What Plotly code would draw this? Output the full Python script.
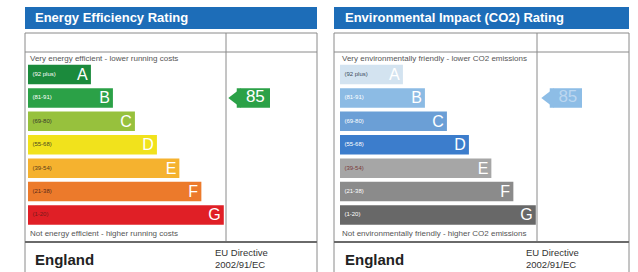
import plotly.graph_objects as go

W, H = 638, 272

# ---------------- data ----------------
bands = ["A", "B", "C", "D", "E", "F", "G"]
band_ranges = ["(92 plus)", "(81-91)", "(69-80)", "(55-68)", "(39-54)", "(21-38)", "(1-20)"]
band_lower = [92, 81, 69, 55, 39, 21, 1]
bar_length = [2.86, 3.86, 4.86, 5.86, 6.88, 7.88, 8.9]   # relative bar lengths (chart units)
ee_colors = ["#1b8a3c", "#2ba147", "#97c13d", "#f1e21c", "#f5b22f", "#ec7a2b", "#e01f26"]
ei_colors = ["#d3e3f0", "#8cbbe4", "#6b9fd6", "#3c7dcc", "#a6a6a6", "#8b8b8b", "#686868"]
ee_range_text_colors = ["#ffffff", "#ffffff", "#3a3a2a", "#4a4a20", "#5a3a1a", "#5a2a1a", "#7a1a1a"]
ei_range_text_colors = ["#3a4a5a", "#ffffff", "#ffffff", "#ffffff", "#7a3a3a", "#ffffff", "#ffffff"]
ee_current = 85
ei_current = 85

titles = ["Energy Efficiency Rating", "Environmental Impact (CO2) Rating"]
top_notes = ["Very energy efficient - lower running costs",
             "Very environmentally friendly - lower CO2 emissions"]
bottom_notes = ["Not energy efficient - higher running costs",
                "Not environmentally friendly - higher CO2 emissions"]
footer_left = "England"
footer_right = "EU Directive<br>2002/91/EC"

FONT = "Liberation Sans, Arial, sans-serif"


def band_of(rating):
    for b, lo in zip(bands, band_lower):
        if rating >= lo:
            return b
    return bands[-1]


def px(x):
    return x / W


def py(y):
    return 1 - y / H


fig = go.Figure()

panels = [
    dict(box=(25, 317), div=226, bar_x0=28, colors=ee_colors, rt_colors=ee_range_text_colors,
         rating=ee_current, arrow_color="#2ba147", arrow_text="#ffffff",
         xa="x", xb="x2", ya="y", tip=1, bar_end=44, title_x=33),
    dict(box=(334, 629), div=537, bar_x0=340, colors=ei_colors, rt_colors=ei_range_text_colors,
         rating=ei_current, arrow_color="#8dbde6", arrow_text="#bcd7f0",
         xa="x3", xb="x4", ya="y2", tip=3, bar_end=45, title_x=343),
]

ROW_TOP, ROW_BOT = 62.8, 226.7
BAR_W = 0.83
tri_rt = 9.75
tri_size = 2 * tri_rt * (3 ** 0.5) / 2

shapes = []
annotations = []
layout_axes = {}

for i, p in enumerate(panels):
    fig.add_trace(go.Bar(
        y=bands, x=bar_length, orientation="h", base=0,
        marker=dict(color=p["colors"], line=dict(width=0)),
        width=BAR_W,
        text=bands, textposition="inside", insidetextanchor="end",
        textangle=0, constraintext="none",
        textfont=dict(family=FONT, size=16, color="#ffffff"),
        xaxis=p["xa"], yaxis=p["ya"], hoverinfo="skip", showlegend=False,
    ))
    fig.add_trace(go.Scatter(
        y=bands, x=[0.2] * len(bands), mode="text", text=band_ranges,
        textposition="middle right",
        textfont=dict(family=FONT, size=6, color=p["rt_colors"]),
        xaxis=p["xa"], yaxis=p["ya"], hoverinfo="skip", showlegend=False,
    ))
    cur_band = band_of(p["rating"])
    centre = p["tip"] + tri_rt
    fig.add_trace(go.Bar(
        y=[cur_band], x=[p["bar_end"] - centre], base=[centre], orientation="h",
        marker=dict(color=p["arrow_color"], line=dict(width=0)), width=BAR_W,
        xaxis=p["xb"], yaxis=p["ya"], hoverinfo="skip", showlegend=False,
    ))
    fig.add_trace(go.Scatter(
        y=[cur_band], x=[centre], mode="markers",
        marker=dict(symbol="triangle-left", size=tri_size, color=p["arrow_color"],
                    line=dict(width=0)),
        xaxis=p["xb"], yaxis=p["ya"], hoverinfo="skip", showlegend=False,
    ))
    fig.add_trace(go.Scatter(
        y=[cur_band], x=[(centre + p["bar_end"]) / 2 + 2], mode="text",
        text=[str(p["rating"])], textposition="middle center",
        textfont=dict(family=FONT, size=17, color=p["arrow_text"]),
        xaxis=p["xb"], yaxis=p["ya"], hoverinfo="skip", showlegend=False,
    ))

    bx0, bx1 = p["box"]
    xa_name = "xaxis" if p["xa"] == "x" else "xaxis" + p["xa"][1:]
    xb_name = "xaxis" + p["xb"][1:]
    ya_name = "yaxis" if p["ya"] == "y" else "yaxis" + p["ya"][1:]
    hidden = dict(showgrid=False, zeroline=False, showticklabels=False, showline=False,
                  ticks="", fixedrange=True)
    layout_axes[xa_name] = dict(domain=[px(p["bar_x0"]), px(p["div"])],
                                range=[0, (p["div"] - p["bar_x0"]) / 22.0],
                                anchor=p["ya"], **hidden)
    layout_axes[xb_name] = dict(domain=[px(p["div"]), px(bx1)],
                                range=[0, bx1 - p["div"]], anchor=p["ya"], **hidden)
    layout_axes[ya_name] = dict(domain=[py(ROW_BOT), py(ROW_TOP)], type="category",
                                categoryorder="array", categoryarray=bands,
                                range=[6.5, -0.5], anchor=p["xa"], **hidden)

    shapes.append(dict(type="rect", xref="paper", yref="paper",
                       x0=px(bx0), x1=px(bx1), y0=py(29), y1=py(7),
                       fillcolor="#1d6db8", line=dict(width=0), layer="below"))
    annotations.append(dict(text="<b>" + titles[i] + "</b>", xref="paper", yref="paper",
                            x=px(p["title_x"]), y=py(18), xanchor="left", yanchor="middle",
                            showarrow=False, font=dict(family=FONT, size=13, color="#ffffff")))
    lc = "#8a8a8a"
    for (x0, y0, x1, y1, w, c) in [
        (bx0, 33, bx1, 33, 1, lc),
        (bx0, 52, bx1, 52, 1, lc),
        (bx0, 33, bx0, 275, 1, lc),
        (bx1, 33, bx1, 275, 1, lc),
        (p["div"], 33, p["div"], 242, 1, lc),
        (bx0, 242, bx1, 242, 2, "#6a6a6a"),
    ]:
        shapes.append(dict(type="line", xref="paper", yref="paper",
                           x0=px(x0), x1=px(x1), y0=py(y0), y1=py(y1),
                           line=dict(color=c, width=w)))
    annotations.append(dict(text=top_notes[i], xref="paper", yref="paper",
                            x=px(p["bar_x0"]), y=py(58), xanchor="left", yanchor="middle",
                            showarrow=False, font=dict(family=FONT, size=8, color="#555555")))
    annotations.append(dict(text=bottom_notes[i], xref="paper", yref="paper",
                            x=px(p["bar_x0"]), y=py(233), xanchor="left", yanchor="middle",
                            showarrow=False, font=dict(family=FONT, size=8, color="#555555")))
    annotations.append(dict(text="<b>" + footer_left + "</b>", xref="paper", yref="paper",
                            x=px(p["title_x"]), y=py(259), xanchor="left", yanchor="middle",
                            showarrow=False, font=dict(family=FONT, size=15, color="#222222")))
    annotations.append(dict(text=footer_right, xref="paper", yref="paper",
                            x=px(p["div"] - 13), y=py(258.5), xanchor="left", yanchor="middle",
                            align="left", showarrow=False,
                            font=dict(family=FONT, size=9.5, color="#333333")))

fig.update_layout(
    width=W, height=H, margin=dict(l=0, r=0, t=0, b=0),
    paper_bgcolor="#ffffff", plot_bgcolor="rgba(0,0,0,0)",
    showlegend=False, barmode="overlay",
    shapes=shapes, annotations=annotations,
    **layout_axes,
)

fig.write_html("out.html",
               config={"displayModeBar": False, "staticPlot": True},
               post_script="document.body.style.margin='0';document.body.style.overflow='hidden';")
